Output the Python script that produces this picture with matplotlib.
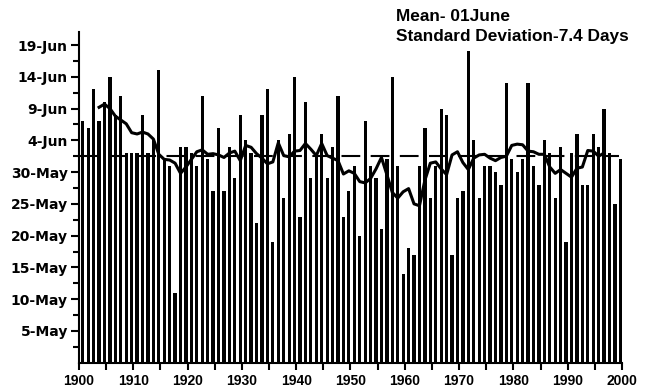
import numpy as np
import matplotlib
matplotlib.use("Agg")
import matplotlib.pyplot as plt

# onset date as days after 30 April (1 = 1-May, 32 = 1-Jun)
years = np.arange(1901, 2001)
onset = [
    38, 37, 43, 38, 41, 45, 39, 42, 33, 33,
    33, 39, 33, 35, 46, 32, 31, 11, 34, 34,
    33, 31, 42, 32, 27, 37, 27, 34, 29, 39,
    35, 33, 22, 39, 43, 19, 35, 26, 36, 45,
    23, 41, 29, 33, 36, 29, 34, 42, 23, 27,
    31, 20, 38, 31, 29, 21, 32, 45, 31, 14,
    18, 17, 31, 37, 26, 31, 40, 39, 17, 26,
    27, 49, 35, 26, 31, 31, 30, 28, 44, 32,
    30, 32, 44, 31, 28, 35, 33, 26, 34, 19,
    33, 36, 28, 28, 36, 34, 40, 33, 25, 32,
]

# 7-year running mean curve
smooth_years = np.arange(1904, 1998)
smooth = [
    40.2, 40.7, 40.0, 38.8, 38.2, 37.6, 36.2, 36.0, 36.3, 36.0,
    35.2, 32.8, 32.0, 31.9, 31.4, 29.8, 30.8, 32.0, 33.2, 33.5,
    32.8, 32.9, 32.7, 32.3, 33.0, 33.3, 31.8, 34.2, 33.9, 32.9,
    32.2, 31.3, 31.6, 34.6, 32.6, 32.4, 33.3, 33.4, 34.5, 33.6,
    32.6, 34.5, 32.6, 32.2, 31.8, 29.7, 30.2, 29.8, 28.5, 28.3,
    29.0, 30.5, 32.3, 29.6, 26.8, 25.9, 26.9, 27.4, 25.0, 24.7,
    28.7, 31.4, 31.6, 30.5, 29.6, 32.7, 33.2, 31.5, 30.4, 32.2,
    32.7, 32.8, 32.2, 31.8, 32.3, 32.5, 34.2, 34.4, 34.3, 33.3,
    33.2, 32.8, 32.8, 30.8, 29.8, 30.4, 29.8, 29.2, 30.6, 30.8,
    33.4, 33.3, 32.5, 33.0,
]

mean_onset = 32.5
ytick_vals = [5, 10, 15, 20, 25, 30, 35, 40, 45, 50]
ytick_labels = ["5-May", "10-May", "15-May", "20-May", "25-May", "30-May",
                "4-Jun", "9-Jun", "14-Jun", "19-Jun"]

plt.rcParams["font.family"] = ["Liberation Sans", "DejaVu Sans"]
plt.rcParams["font.weight"] = "bold"

fig = plt.figure(figsize=(6.55, 3.87), dpi=100)
ax = fig.add_axes([0.1206, 0.0628, 0.829, 0.8537])

shift = 0.3
ax.bar(years - shift, onset, width=0.6, color="black", zorder=2)
ax.plot(smooth_years - shift, smooth, color="black", lw=2.2, zorder=4)
ax.axhline(mean_onset, xmax=0.995, color="black", lw=1.5, dashes=(9, 5), zorder=3)

ax.set_xlim(1900, 2000)
ax.set_ylim(0, 52)
ax.set_xticks(np.arange(1900, 2001, 10))
ax.set_xticks(np.arange(1905, 2000, 10), minor=True)
ax.set_yticks(ytick_vals)
ax.set_yticklabels(ytick_labels, family="DejaVu Sans", fontsize=10)
ax.set_yticks(np.arange(2.5, 52, 5), minor=True)

for side in ("top", "right"):
    ax.spines[side].set_visible(False)
for side in ("left", "bottom"):
    ax.spines[side].set_linewidth(1.5)

ax.tick_params(axis="y", which="major", length=6, width=1.5, pad=2)
ax.tick_params(axis="y", which="minor", length=4, width=1.5)
ax.tick_params(axis="x", which="major", length=5, width=1.5, labelsize=10, pad=3)
ax.tick_params(axis="x", which="minor", length=5, width=1.5)
for lab in ax.get_xticklabels() + ax.get_yticklabels():
    lab.set_fontweight("bold")

fig.text(0.6046, 0.9457, "Mean- 01June", fontsize=12.4, fontweight="bold", va="baseline")
fig.text(0.6046, 0.894, "Standard Deviation-7.4 Days", fontsize=12.4,
         fontweight="bold", va="baseline")

fig.savefig("out.png", dpi=100)
